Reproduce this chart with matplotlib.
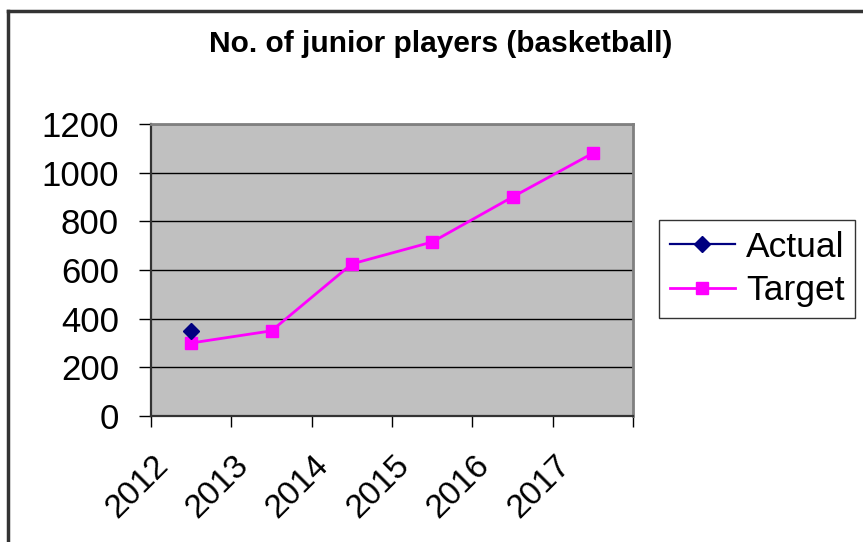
import numpy as np
import matplotlib
matplotlib.use("Agg")
import matplotlib.pyplot as plt
from matplotlib.lines import Line2D

plt.rcParams['font.family'] = ['Liberation Sans', 'DejaVu Sans']

years = ['2012', '2013', '2014', '2015', '2016', '2017']
actual = [350]
target = [300, 350, 625, 715, 900, 1080]

fig = plt.figure(figsize=(8.63, 5.42), dpi=100)
ax = fig.add_axes([151 / 863, 1 - 416 / 542, (633 - 151) / 863, (416 - 124) / 542])
ax.set_facecolor('#C0C0C0')

pos = np.arange(len(years)) + 0.5
ax.plot(pos, target, color='#FF00FF', lw=2, marker='s', ms=9, label='Target', zorder=3)
ax.plot(pos[:len(actual)], actual, color='#000080', lw=1.6, marker='D', ms=8,
        label='Actual', zorder=4)

ax.set_xlim(0, 6)
ax.set_ylim(0, 1200)
ax.set_yticks(np.arange(0, 1201, 200))
ax.yaxis.grid(True, color='black', lw=1)
ax.set_axisbelow(True)
ax.tick_params(axis='y', length=9, width=1, pad=14, labelsize=25)

# category boundaries get the tick marks, labels hang off each year
ax.set_xticks(np.arange(0, 7), minor=True)
ax.set_xticks(np.arange(6) + 0.02)
ax.set_xticklabels(years, rotation=45, ha='right', rotation_mode='anchor', fontsize=24)
ax.tick_params(axis='x', which='major', length=0, pad=24)
ax.tick_params(axis='x', which='minor', length=8, width=1)

for s in ['top', 'right']:
    ax.spines[s].set_color('#808080')
    ax.spines[s].set_linewidth(2)
for s in ['left', 'bottom']:
    ax.spines[s].set_color('#333333')
    ax.spines[s].set_linewidth(1.6)

fig.text(441 / 863, 1 - 44 / 542, 'No. of junior players (basketball)',
         ha='center', va='center', fontsize=21.5, fontweight='bold')

h, l = ax.get_legend_handles_labels()
leg = fig.legend(h[::-1], l[::-1], loc='lower left',
                 bbox_to_anchor=(659 / 863, 1 - 318 / 542), borderaxespad=0,
                 fontsize=25.5, frameon=True, fancybox=False, shadow=False,
                 handlelength=1.85, handletextpad=0.3, borderpad=0.3, labelspacing=0.3)
leg.get_frame().set_edgecolor('black')
leg.get_frame().set_linewidth(1)

# outer chart frame
fig.add_artist(Line2D([8 / 863, 8 / 863], [0, 1 - 11 / 542], color='#333333', lw=2.5,
                      transform=fig.transFigure))
fig.add_artist(Line2D([8 / 863, 1], [1 - 11 / 542, 1 - 11 / 542], color='#333333', lw=2.5,
                      transform=fig.transFigure))

fig.savefig('out.png', dpi=100)
